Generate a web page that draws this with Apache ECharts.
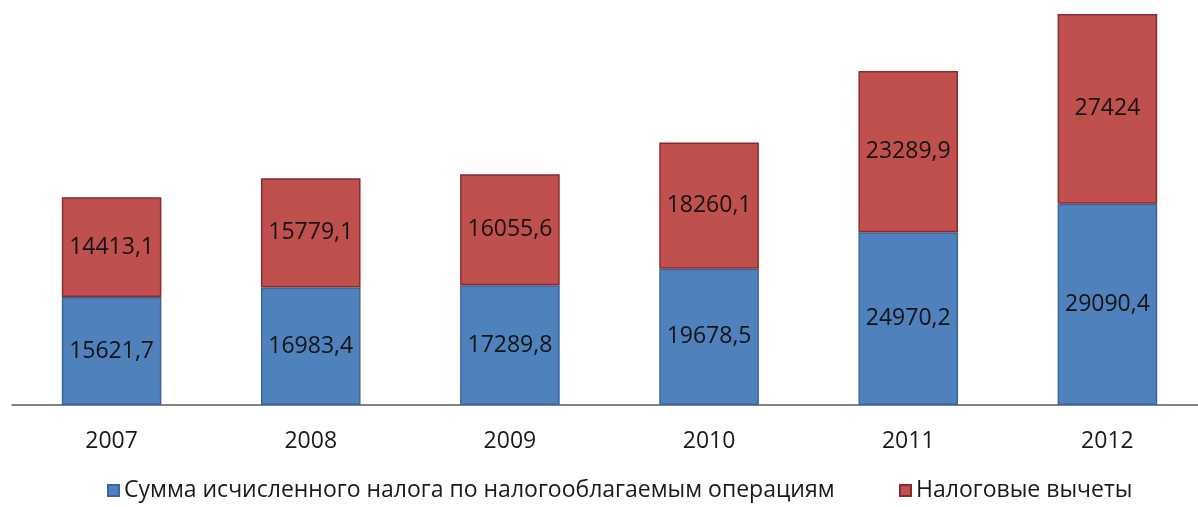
<!DOCTYPE html>
<html>
<head>
<meta charset="utf-8">
<script src="https://cdn.jsdelivr.net/npm/echarts@6/dist/echarts.min.js"></script>
<style>
  html, body { margin: 0; padding: 0; background: #fff; }
  #chart { width: 1198px; height: 507px; }
</style>
</head>
<body>
<div id="chart"></div>
<script>
// Годы и значения (млн руб.)
const years = ['2007', '2008', '2009', '2010', '2011', '2012'];
const taxCalculated = [15621.7, 16983.4, 17289.8, 19678.5, 24970.2, 29090.4];
const taxDeductions = [14413.1, 15779.1, 16055.6, 18260.1, 23289.9, 27424];
const seriesNames = [
  'Сумма исчисленного налога по налогооблагаемым операциям',
  'Налоговые вычеты'
];

const FONT = '"Open Sans", "Noto Sans", sans-serif';

// Число с запятой в качестве десятичного разделителя
const fmt = p => String(p.value).replace('.', ',');

const labelStyle = {
  show: true,
  position: 'inside',
  formatter: fmt,
  color: '#141414',
  fontFamily: FONT,
  fontSize: 23
};

const legendBase = {
  bottom: 0,
  itemWidth: 11,
  itemHeight: 11,
  icon: 'rect',
  textStyle: { color: '#1a1a1a', fontFamily: FONT, fontSize: 23 }
};

const chart = echarts.init(document.getElementById('chart'), null, { renderer: 'canvas' });
chart.setOption({
  animation: false,
  backgroundColor: '#ffffff',
  grid: {
    left: 12, width: 1195, top: 10.6, bottom: 102,
    containLabel: false, outerBoundsMode: 'none'
  },
  xAxis: {
    type: 'category',
    data: years,
    axisLine: { show: true, lineStyle: { color: '#5a5a5a', width: 1.5 } },
    axisTick: { show: false },
    axisLabel: { color: '#1a1a1a', fontFamily: FONT, fontSize: 23, margin: 25 }
  },
  yAxis: {
    type: 'value',
    min: 0,
    max: 57000,
    show: false,
    splitLine: { show: false }
  },
  legend: [
    Object.assign({ left: 102, data: [seriesNames[0]] }, legendBase),
    Object.assign({ left: 894, data: [seriesNames[1]] }, legendBase)
  ],
  series: [
    {
      name: seriesNames[0],
      type: 'bar',
      stack: 'total',
      barWidth: '50%',
      data: taxCalculated,
      itemStyle: { color: '#4f81bd', borderColor: '#3a66a0', borderWidth: 1.5 },
      label: labelStyle
    },
    {
      name: seriesNames[1],
      type: 'bar',
      stack: 'total',
      barWidth: '50%',
      data: taxDeductions,
      itemStyle: { color: '#c0504d', borderColor: '#8c2a28', borderWidth: 1.5 },
      label: labelStyle
    }
  ]
});
</script>
</body>
</html>
